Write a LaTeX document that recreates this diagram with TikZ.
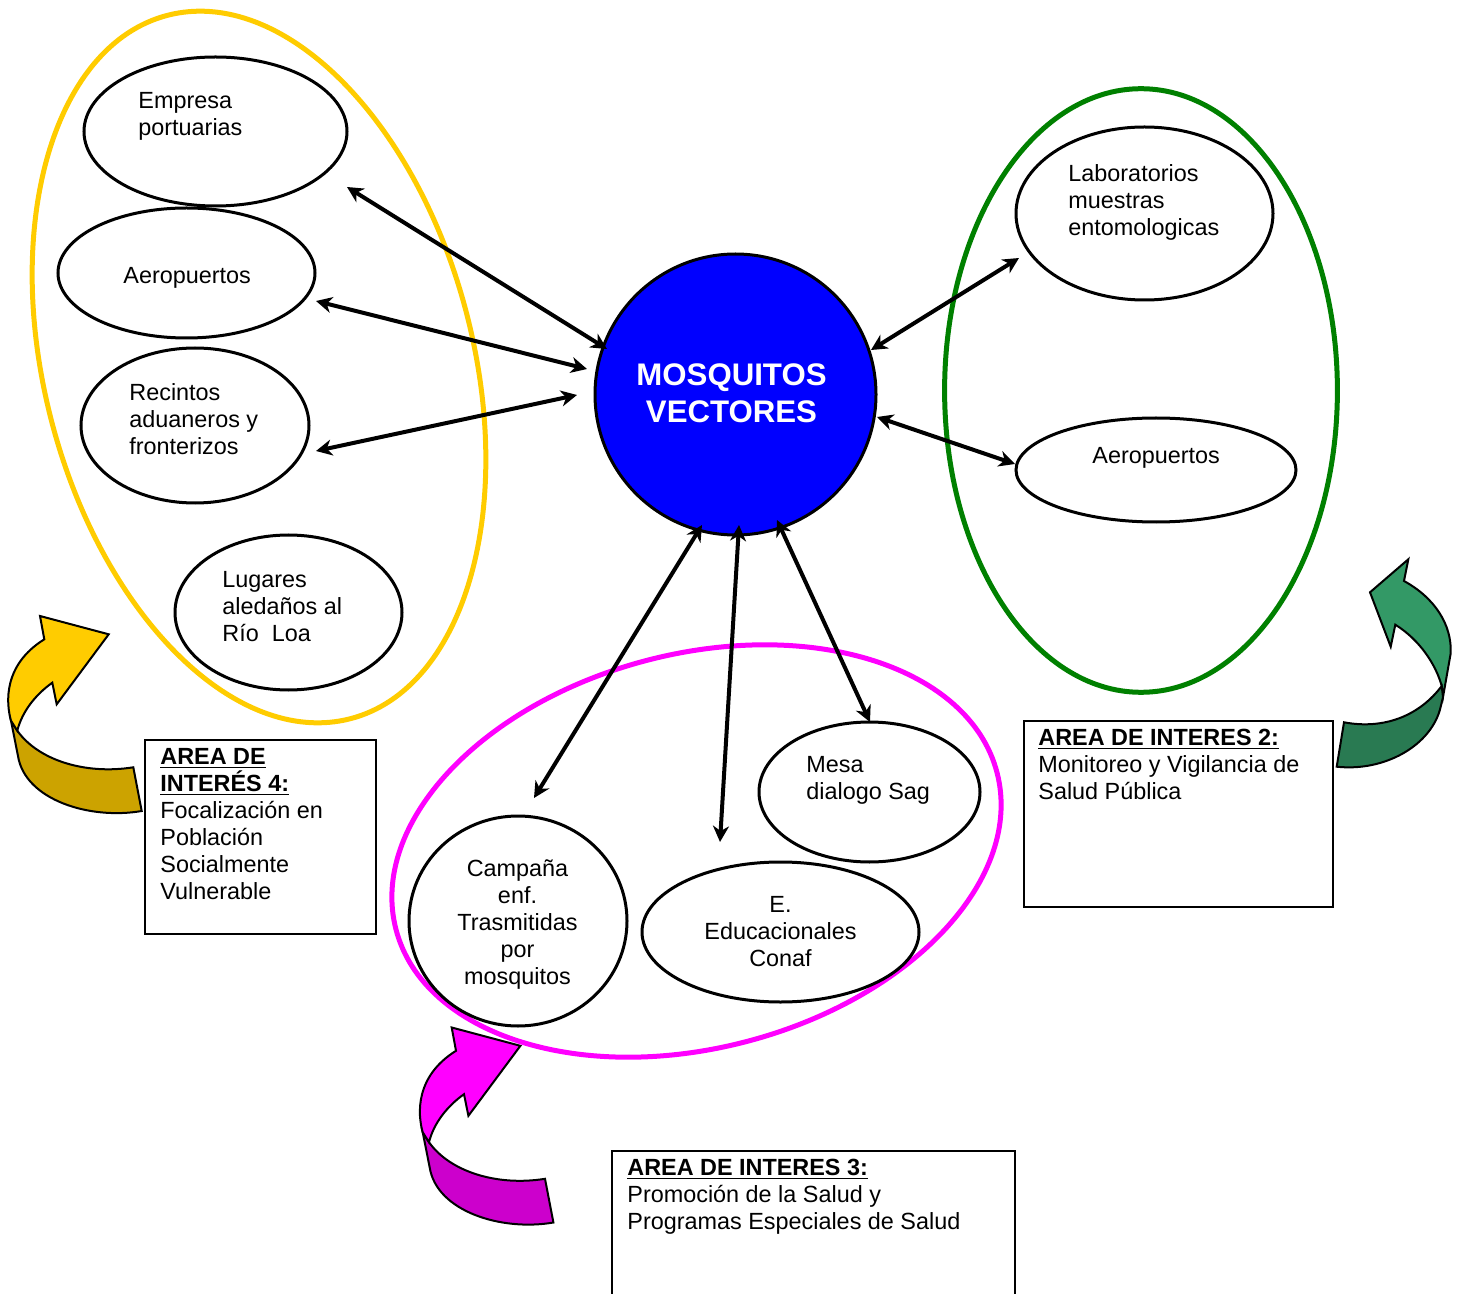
\documentclass[tikz,border=0pt]{standalone}
\usepackage{fontspec}
\setmainfont{Liberation Sans}
\usetikzlibrary{arrows.meta,shapes.geometric,calc}
\definecolor{yel}{HTML}{FFCC00}
\definecolor{yeld}{HTML}{CCA300}
\definecolor{mag}{HTML}{FF00FF}
\definecolor{magd}{HTML}{CC00CC}
\definecolor{grn}{HTML}{339966}
\definecolor{grnd}{HTML}{297A52}
\definecolor{ringg}{HTML}{008000}
\tikzset{
  x=0.5pt,y=-0.5pt,
  ring/.style={line width=2.5pt,fill=none},
  oval/.style={draw=black,line width=1.5pt,ellipse,fill=none,inner sep=0pt},
  lab/.style={font=\fontsize{11.7}{13.5}\selectfont,inner sep=0pt,align=left,anchor=north west,execute at begin node=\strut},
  clab/.style={lab,align=center,anchor=north},
  box/.style={draw=black,line width=1pt,fill=none,inner sep=0pt,rectangle},
  arr/.style={line width=2pt,black,{Stealth[length=8pt,width=8pt,inset=2.5pt]}-{Stealth[length=8pt,width=8pt,inset=2.5pt]}},
  edge line/.style={draw=black,line width=1pt,line join=miter},
  bentarrow/.pic={
    \path[edge line,fill=#1] (40,616) -- (108.7,634.3) -- (56.7,704.3) -- (52.3,682.7)
      .. controls (35,695) and (22,712) .. (17.3,730.7) -- (11,720.7)
      .. controls (6,703) and (3,665) .. (44.3,639.3) -- cycle;
  },
  bentband/.pic={
    \path[edge line,fill=#1] (17.3,730.7) .. controls (38,760) and (85,775) .. (133.3,767.3)
      -- (141.7,811) .. controls (90,820) and (25,800) .. (18,756) -- (11,720.7) -- cycle;
  }
}
\newcommand{\ul}[1]{\underline{\smash{\textbf{#1}}}}
\begin{document}
\begin{tikzpicture}
\useasboundingbox (0,0) rectangle (1462,1294);
% large rings
\draw[ring,yel] [rotate around={-75.4:(259,367)}] (259,367) ellipse [x radius=181.7pt,y radius=107.2pt];
\draw[ring,ringg] (1141,390.5) ellipse [x radius=98.2pt,y radius=150.9pt];
% bent arrows
\pic at (0,0) {bentband=yeld};
\pic at (0,0) {bentarrow=yel};
\pic at (411.7,411.5) {bentband=magd};
\pic at (411.7,411.5) {bentarrow=mag};
\path[edge line,fill=grn] (1408.3,559.3) -- (1370,592.3) -- (1390.7,646.7) -- (1395.3,624.7)
  .. controls (1420,640) and (1436,665) .. (1441.7,686) -- (1443,697)
  -- (1450.7,653.3) .. controls (1452,625) and (1435,598) .. (1404,581) -- cycle;
\path[edge line,fill=grnd] (1441.7,686) .. controls (1420,715) and (1385,730) .. (1344,722.3)
  -- (1336.7,766.7) .. controls (1385,772) and (1432,745) .. (1440.7,706.7) -- (1443,697) -- cycle;
\draw[ring,mag] [rotate around={14.65:(696.5,851)}] (696.5,851) ellipse [x radius=155.3pt,y radius=98.5pt];
% hub
\node[circle,draw=black,line width=1.5pt,fill=blue,minimum size=140.5pt,inner sep=0pt] (hub) at (735.5,394.5) {};
\node[align=center,text=white,inner sep=0pt,font=\fontsize{15.6}{18.5}\selectfont\bfseries] (hubt) at (731.5,393.5) {MOSQUITOS\\VECTORES};
% ovals
\node[oval,minimum width=131.5pt,minimum height=74.5pt] (e1) at (215.5,131.5) {};
\node[oval,minimum width=128.5pt,minimum height=65pt] (e2) at (186.5,273) {};
\node[oval,minimum width=114pt,minimum height=77.5pt] (e3) at (195,425.5) {};
\node[oval,minimum width=113.5pt,minimum height=77.5pt] (e4) at (288.5,612.5) {};
\node[oval,minimum width=128.5pt,minimum height=86.5pt] (e5) at (1144.5,213.5) {};
\node[oval,minimum width=140pt,minimum height=52pt] (e6) at (1156,470) {};
\node[oval,minimum width=110.5pt,minimum height=70pt] (e7) at (869.5,792) {};
\node[oval,minimum width=138.5pt,minimum height=70pt] (e8) at (780.5,932) {};
\node[oval,minimum width=109pt,minimum height=105pt] (e9) at (518,921) {};
% oval texts
\node[lab] (t1) at (138,92) {Empresa\\portuarias};
\node[lab] (t2) at (123,264) {Aeropuertos};
\node[lab] (t3) at (129,383) {Recintos\\aduaneros y\\fronterizos};
\node[lab] (t4) at (222,571) {Lugares\\aledaños al\\Río\ \ Loa};
\node[lab] (t5) at (1068,164) {Laboratorios\\muestras\\entomologicas};
\node[lab] (t6) at (1092,444) {Aeropuertos};
\node[lab] (t7) at (806,756) {Mesa\\dialogo Sag};
\node[clab] (t8) at (780.5,896) {E.\\Educacionales\\Conaf};
\node[clab] (t9) at (517.5,859) {Campaña\\enf.\\Trasmitidas\\por\\mosquitos};
% boxes
\node[box,minimum width=115.5pt,minimum height=97pt] (b4) at (260.5,837) {};
\node[box,minimum width=154.5pt,minimum height=93pt] (b2) at (1178.5,814) {};
\coordinate (b3a) at (612,1294);
\coordinate (b3b) at (1015,1151);
\coordinate (b3c) at (1015,1294);
\draw[line width=1pt] (b3a) |- (b3b) -- (b3c);
\node[lab] (x4) at (160,764) {\ul{AREA DE}\\\ul{INTERÉS 4:}\\Focalización en\\Población\\Socialmente\\Vulnerable};
\node[lab] (x2) at (1038,745.5) {\ul{AREA DE INTERES 2:}\\Monitoreo y Vigilancia de\\Salud Pública};
\node[lab] (x3) at (627,1175.5) {\ul{AREA DE INTERES 3:}\\Promoción de la Salud y\\Programas Especiales de Salud};
% connector ends
\coordinate (a1) at (347,187);  \coordinate (h1) at (607,349);
\coordinate (a2) at (316,301);  \coordinate (h2) at (587,369);
\coordinate (a3) at (316,451);  \coordinate (h3) at (577,395);
\coordinate (a4) at (534,798);  \coordinate (h4) at (702,525);
\coordinate (a5) at (720,842);  \coordinate (h5) at (739,525);
\coordinate (a6) at (870,722);  \coordinate (h6) at (777,520);
\coordinate (a7) at (1019,258); \coordinate (h7) at (871,350);
\coordinate (a8) at (1015,464); \coordinate (h8) at (877,417);
\draw[arr] (a1) -- (h1);
\draw[arr] (a2) -- (h2);
\draw[arr] (a3) -- (h3);
\draw[arr] (a4) -- (h4);
\draw[arr] (a5) -- (h5);
\draw[arr] (a6) -- (h6);
\draw[arr] (a7) -- (h7);
\draw[arr] (a8) -- (h8);
\end{tikzpicture}
\end{document}
